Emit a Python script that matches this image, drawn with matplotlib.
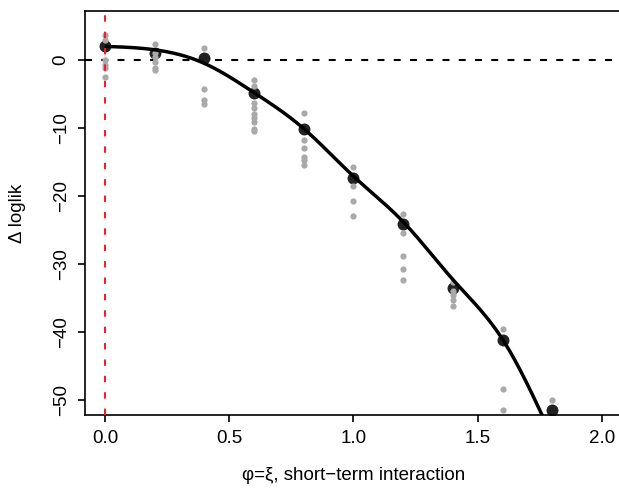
import numpy as np
import matplotlib
matplotlib.use("Agg")
import matplotlib.pyplot as plt

plt.rcParams['font.family'] = ['Liberation Sans', 'DejaVu Sans']
plt.rcParams['lines.scale_dashes'] = False

# interaction strength grid and the best log-likelihood difference at each value
phi = [0.0, 0.2, 0.4, 0.6, 0.8, 1.0, 1.2, 1.4, 1.6, 1.8]
best_dloglik = [2.0, 1.0, 0.25, -4.9, -10.1, -17.3, -24.05, -33.5, -41.1, -51.5]

# smoothed profile through the grid
profile_dloglik = [2.0, 1.5, -0.5, -4.8, -10.1, -17.1, -23.8, -32.3, -41.1, -55.5]

# individual replicate fits
rep_phi = ([0.0] * 6 + [0.2] * 6 + [0.4] * 4 + [0.6] * 9 + [0.8] * 6 +
           [1.0] * 4 + [1.2] * 5 + [1.4] * 5 + [1.6] * 3 + [1.8] * 1)
rep_dloglik = [3.7, 3.0, 0.0, -0.7, -1.2, -2.5,
               2.3, 1.0, 0.5, -0.25, -1.2, -1.5,
               1.8, -4.2, -5.9, -6.5,
               -2.9, -3.9, -6.4, -7.1, -7.9, -8.6, -9.1, -10.1, -10.4,
               -7.85, -11.8, -13.0, -14.2, -14.7, -15.5,
               -15.8, -18.6, -20.8, -22.9,
               -22.6, -25.5, -28.8, -30.7, -32.4,
               -32.6, -33.9, -34.6, -35.3, -36.2,
               -39.5, -48.4, -51.4,
               -50.0]

xticks = [0.0, 0.5, 1.0, 1.5, 2.0]
xticklabels = ["0.0", "0.5", "1.0", "1.5", "2.0"]
yticks = [0, -10, -20, -30, -40, -50]
yticklabels = ["0", "\u221210", "\u221220", "\u221230", "\u221240", "\u221250"]


def natural_spline(x, y, xs):
    x = np.asarray(x, float)
    y = np.asarray(y, float)
    n = len(x)
    h = np.diff(x)
    A = np.zeros((n, n))
    b = np.zeros(n)
    A[0, 0] = A[-1, -1] = 1.0
    for i in range(1, n - 1):
        A[i, i - 1] = h[i - 1]
        A[i, i] = 2 * (h[i - 1] + h[i])
        A[i, i + 1] = h[i]
        b[i] = 6 * ((y[i + 1] - y[i]) / h[i] - (y[i] - y[i - 1]) / h[i - 1])
    M = np.linalg.solve(A, b)
    idx = np.clip(np.searchsorted(x, xs) - 1, 0, n - 2)
    x0, x1 = x[idx], x[idx + 1]
    hh = x1 - x0
    t0, t1 = x1 - xs, xs - x0
    return (M[idx] * t0 ** 3 / (6 * hh) + M[idx + 1] * t1 ** 3 / (6 * hh)
            + (y[idx] / hh - M[idx] * hh / 6) * t0
            + (y[idx + 1] / hh - M[idx + 1] * hh / 6) * t1)


W, H = 619, 492
fig = plt.figure(figsize=(W / 100, H / 100), dpi=100)
ax = fig.add_axes([85 / W, 77 / H, 537 / W, 404 / H])

ax.axhline(0, color='black', lw=1.5, dashes=(5, 6.7), zorder=1)
ax.scatter(phi, best_dloglik, s=8.6 ** 2, color='#222222', zorder=2, linewidths=0)
ax.scatter(rep_phi, rep_dloglik, s=4.5 ** 2, color='#A9A9A9', zorder=3, linewidths=0)

xs = np.linspace(phi[0], phi[-1], 400)
ax.plot(xs, natural_spline(phi, profile_dloglik, xs), color='black', lw=2.5,
        zorder=4, solid_capstyle='butt')
ax.axvline(0, color='#F0202A', lw=1.5, dashes=(4.6, 7.2), zorder=5)

ax.set_xlim(-0.08, 2.08)
ax.set_ylim(-52.2, 7.2)
ax.set_xticks(xticks)
ax.set_xticklabels(xticklabels)
ax.set_yticks(yticks)
ax.set_yticklabels(yticklabels, rotation=90, va='center')

for s in ax.spines.values():
    s.set_linewidth(1.2)
ax.tick_params(length=5, width=1.2, labelsize=13.5, pad=6, color='black')

fig.text(18 / W, 1 - 213 / H, "\u0394 loglik", rotation=90, ha='center',
         va='center', fontsize=13.5)
fig.text(354 / W, 1 - 476 / H, "\u03c6=\u03be, short\u2212term interaction",
         ha='center', va='center', fontsize=13.5)

fig.savefig("out.png", dpi=100)
